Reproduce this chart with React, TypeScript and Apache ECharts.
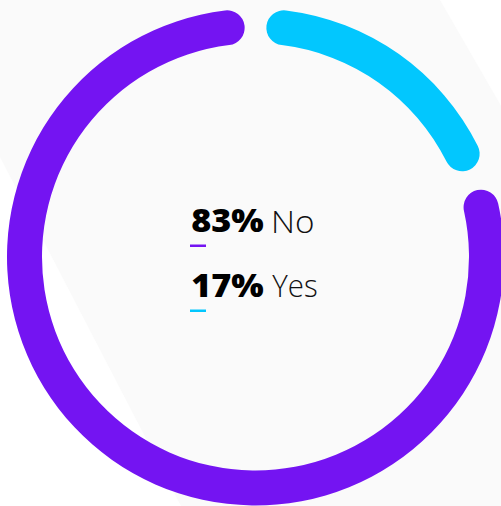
import React, { useEffect, useRef } from "react";
import * as echarts from "echarts";

// Data
const categories = ["Yes", "No"];
const values = [17, 83];
const percentLabels = ["17%", "83%"];

const PURPLE = "#7414f2";
const CYAN = "#02c7fe";
const GAP_DEG = 14.1;

function inkBox(font: string, text: string) {
  const c = document.createElement("canvas").getContext("2d")!;
  c.font = font;
  const m = c.measureText(text);
  return { left: m.actualBoundingBoxLeft, width: m.actualBoundingBoxLeft + m.actualBoundingBoxRight };
}

function fittedText(text: string, font: string, inkLeft: number, inkWidth: number, y: number, fill: string) {
  const b = inkBox(font, text);
  const s = b.width > 0 ? inkWidth / b.width : 1;
  return {
    type: "text",
    z: 100,
    x: inkLeft + b.left * s,
    y,
    scaleX: s,
    style: { x: 0, y: 0, text, font, fill, textVerticalAlign: "middle" },
  };
}

export default function App() {
  const ref = useRef<HTMLDivElement>(null);

  useEffect(() => {
    if (!ref.current) return;
    const chart = echarts.init(ref.current, undefined, { renderer: "svg" });
    const total = values.reduce((a, b) => a + b, 0);
    const gap = (GAP_DEG * total) / (360 - 2 * GAP_DEG);
    const max = total + 2 * gap;

    const bold = "800 31px 'Open Sans'";
    const light = "300 31px 'Open Sans'";

    const option: any = {
      animation: false,
      backgroundColor: "#ffffff",
      polar: { center: [255.5, 257], radius: [213.5, 248.5] },
      angleAxis: {
        type: "value",
        min: 0,
        max,
        startAngle: 90 - GAP_DEG / 2,
        clockwise: true,
        show: false,
      },
      radiusAxis: { type: "category", data: ["ring"], show: false },
      series: [
        {
          name: categories[0],
          type: "bar",
          coordinateSystem: "polar",
          stack: "ring",
          roundCap: true,
          barWidth: 35,
          data: [values[0]],
          itemStyle: { color: CYAN },
          silent: true,
        },
        {
          name: "spacer",
          type: "bar",
          coordinateSystem: "polar",
          stack: "ring",
          barWidth: 35,
          data: [gap],
          itemStyle: { color: "rgba(0,0,0,0)" },
          silent: true,
        },
        {
          name: categories[1],
          type: "bar",
          coordinateSystem: "polar",
          stack: "ring",
          roundCap: true,
          barWidth: 35,
          data: [values[1]],
          itemStyle: { color: PURPLE },
          silent: true,
        },
      ],
      graphic: [
        {
          type: "polygon",
          z: -10,
          silent: true,
          shape: {
            points: [
              [0, 0],
              [440, 0],
              [501, 105.7],
              [501, 506],
              [181, 506],
              [0, 157],
            ],
          },
          style: { fill: "#fafafa" },
        },
        fittedText(percentLabels[1], bold, 192.3, 71, 220.5, "#000"),
        fittedText(categories[1], light, 274.3, 39, 220.5, "#111"),
        {
          type: "rect",
          z: 100,
          shape: { x: 190, y: 244.5, width: 16, height: 2.5 },
          style: { fill: PURPLE },
        },
        fittedText(percentLabels[0], bold, 192.3, 71, 285.5, "#000"),
        fittedText(categories[0], light, 272.3, 45, 285.5, "#111"),
        {
          type: "rect",
          z: 100,
          shape: { x: 190, y: 309.5, width: 16, height: 2.5 },
          style: { fill: CYAN },
        },
      ],
    };
    chart.setOption(option);
    return () => chart.dispose();
  }, []);

  return (
    <div
      ref={ref}
      style={{ position: "fixed", left: 0, top: 0, width: 501, height: 506 }}
    />
  );
}
